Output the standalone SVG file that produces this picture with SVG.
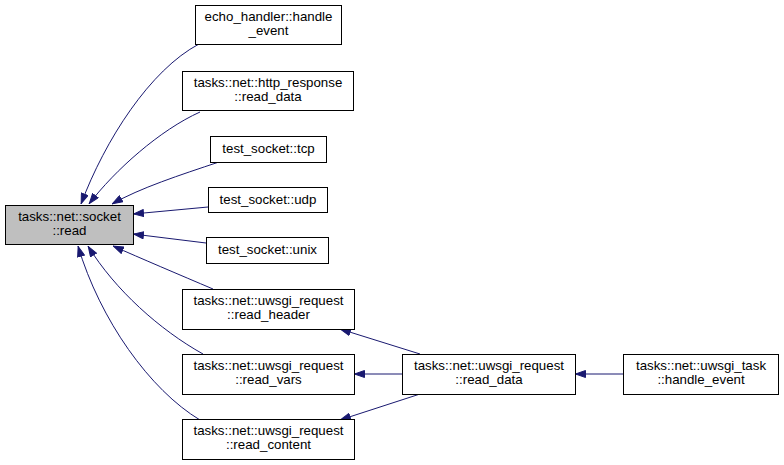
<svg xmlns="http://www.w3.org/2000/svg" width="784" height="465" viewBox="0 0 784 465">
<style>
.n rect{fill:#fff;stroke:#000;stroke-width:1}
.n text{font-family:"Liberation Sans",Arial,sans-serif;font-size:13.3px;text-anchor:middle;fill:#000}
.e path{fill:none;stroke:#191970;stroke-width:1;marker-end:url(#ah)}
</style>
<defs>
<marker id="ah" viewBox="0 0 11 8" refX="11" refY="4" markerWidth="11" markerHeight="8" markerUnits="userSpaceOnUse" orient="auto">
<path d="M0.5,0.5 L10.5,4 L0.5,7.5 z" fill="#191970" stroke="#191970"/>
</marker>
</defs>
<rect width="784" height="465" fill="#fff"/>
<g id="edges" class="e">
<path d="M199,44 C150,70 105,140 81,204"/>
<path d="M200,112 C160,130 115,170 89,204"/>
<path d="M219,162 C180,175 140,188 112,204"/>
<path d="M208,207 L133,214"/>
<path d="M206,243 L133,234"/>
<path d="M213,289 C180,275 140,258 113,246"/>
<path d="M203,354 C160,330 115,290 88,246"/>
<path d="M200,420 C150,390 100,320 78,246"/>
<path d="M420,354 L340,329"/>
<path d="M402,374 L354,374"/>
<path d="M420,394 L340,420"/>
<path d="M623,374 L575,374"/>
</g>
<g id="main" class="n"><rect x="5.5" y="205.5" width="128" height="39" style="fill:#bfbfbf"/><text x="69.5" y="221">tasks::net::socket</text><text x="69.5" y="235">::read</text></g>
<g id="echo" class="n"><rect x="195.5" y="5.5" width="146" height="39"/><text x="268.5" y="21">echo_handler::handle</text><text x="268.5" y="35">_event</text></g>
<g id="http" class="n"><rect x="182.5" y="71.5" width="171" height="39"/><text x="268" y="87">tasks::net::http_response</text><text x="268" y="101">::read_data</text></g>
<g id="tcp" class="n"><rect x="210.5" y="136.5" width="116" height="26"/><text x="268.5" y="153">test_socket::tcp</text></g>
<g id="udp" class="n"><rect x="208.5" y="187.5" width="119" height="25"/><text x="268" y="204">test_socket::udp</text></g>
<g id="unix" class="n"><rect x="206.5" y="237.5" width="122" height="26"/><text x="267.5" y="254">test_socket::unix</text></g>
<g id="rheader" class="n"><rect x="182.5" y="289.5" width="172" height="40"/><text x="268.5" y="305">tasks::net::uwsgi_request</text><text x="268.5" y="319">::read_header</text></g>
<g id="rvars" class="n"><rect x="182.5" y="354.5" width="172" height="40"/><text x="268.5" y="370">tasks::net::uwsgi_request</text><text x="268.5" y="384">::read_vars</text></g>
<g id="rcontent" class="n"><rect x="182.5" y="419.5" width="172" height="40"/><text x="268.5" y="435">tasks::net::uwsgi_request</text><text x="268.5" y="449">::read_content</text></g>
<g id="rdata" class="n"><rect x="402.5" y="354.5" width="173" height="40"/><text x="489" y="370">tasks::net::uwsgi_request</text><text x="489" y="384">::read_data</text></g>
<g id="task" class="n"><rect x="623.5" y="354.5" width="155" height="40"/><text x="701" y="370">tasks::net::uwsgi_task</text><text x="701" y="384">::handle_event</text></g>
</svg>
